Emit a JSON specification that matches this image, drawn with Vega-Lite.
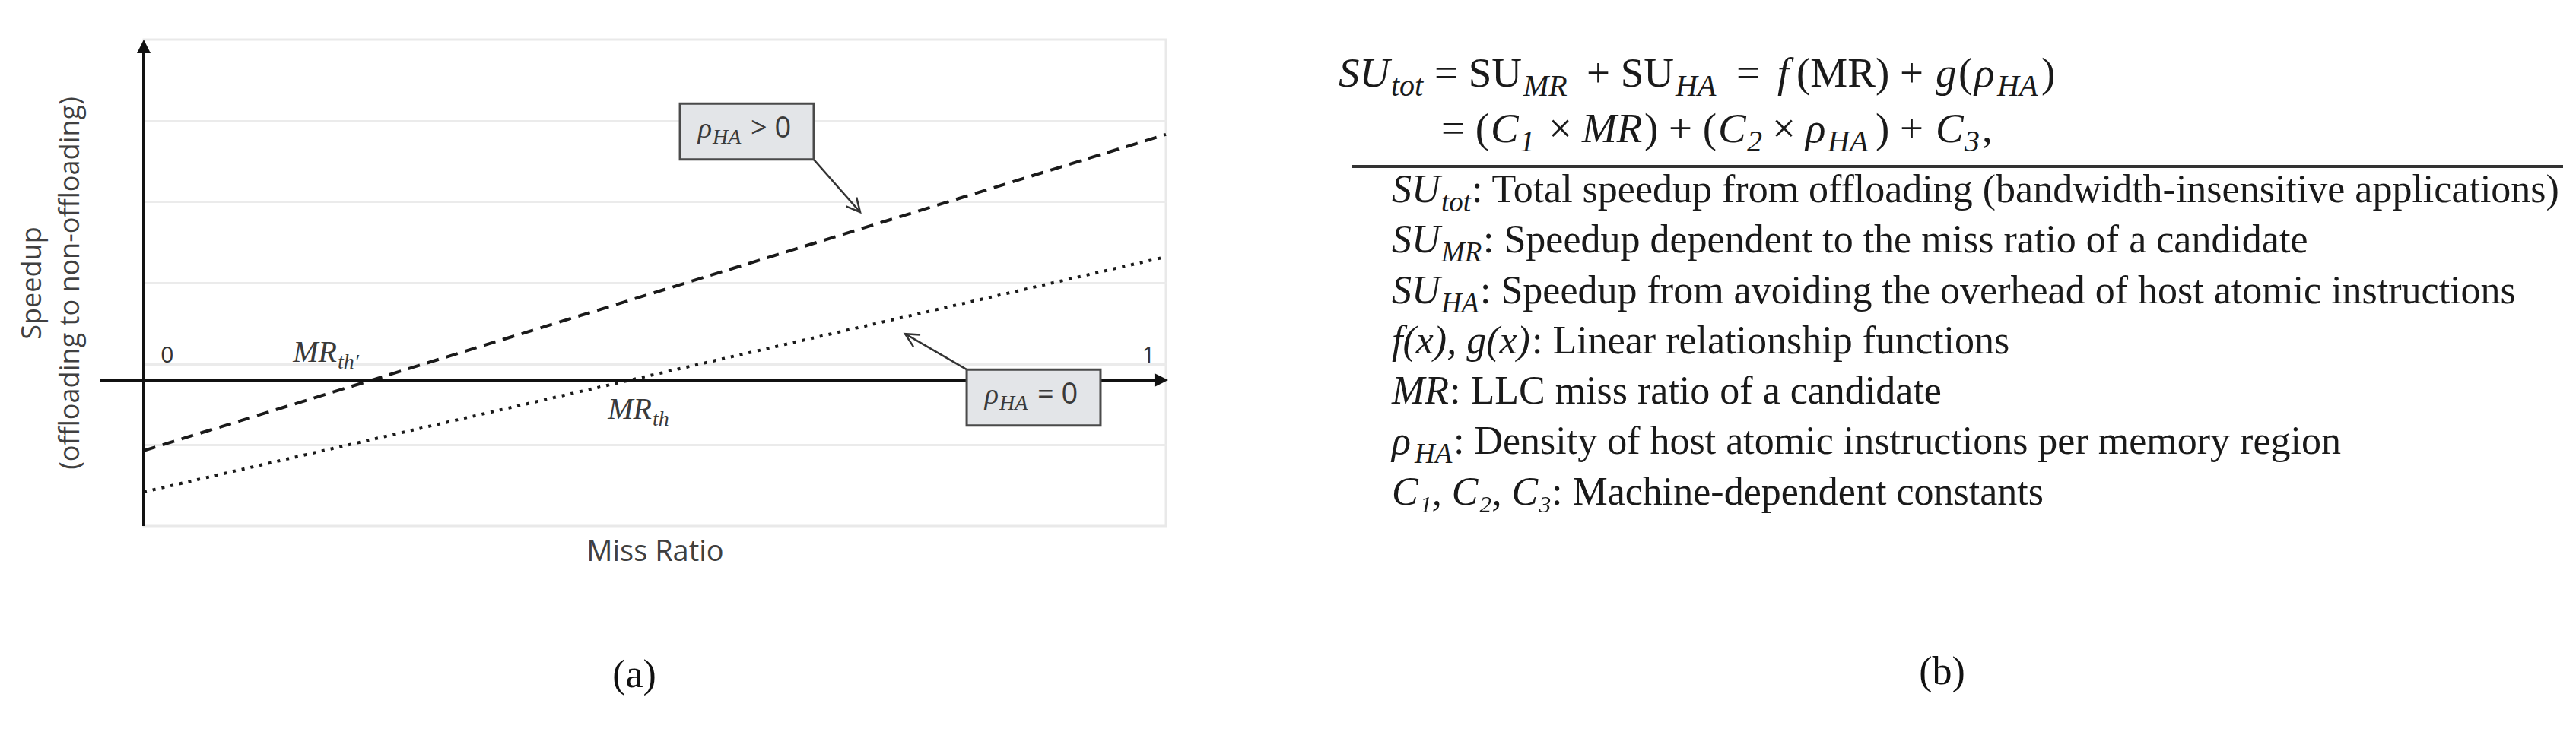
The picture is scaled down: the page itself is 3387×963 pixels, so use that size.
{
  "$schema": "https://vega.github.io/schema/vega-lite/v6.json",
  "background": "white",
  "padding": {"left": 22, "top": 50, "right": 0, "bottom": 0},
  "config": {"font": "Open Sans", "view": {"stroke": null}},
  "spacing": 157,
  "datasets": {
    "lines": [
      {"series": "ρHA > 0", "mr": 0, "speedup": -0.87},
      {"series": "ρHA > 0", "mr": 1, "speedup": 3.03},
      {"series": "ρHA = 0", "mr": 0, "speedup": -1.38},
      {"series": "ρHA = 0", "mr": 1, "speedup": 1.52}
    ],
    "callouts": [
      {"series": "ρHA > 0", "sym": "ρ", "sub": "HA", "rel": "> 0", "lo_mr": 0.5246, "hi_mr": 0.6555, "lo_su": 2.72, "hi_su": 3.41, "mid_mr": 0.590, "mid_su": 3.065, "from_mr": 0.6555, "from_su": 2.72, "tip_mr": 0.7009, "tip_su": 2.07},
      {"series": "ρHA = 0", "sym": "ρ", "sub": "HA", "rel": "= 0", "lo_mr": 0.8051, "hi_mr": 0.9360, "lo_su": -0.56, "hi_su": 0.13, "mid_mr": 0.8705, "mid_su": -0.215, "from_mr": 0.8051, "from_su": 0.13, "tip_mr": 0.7448, "tip_su": 0.57}
    ],
    "ends": [
      {"label": "0", "mr": 0.023, "speedup": 0.3},
      {"label": "1", "mr": 0.983, "speedup": 0.3}
    ],
    "thresholds": [
      {"main": "MR", "sub": "th′", "mr": 0.189, "speedup": 0.225},
      {"main": "MR", "sub": "th", "mr": 0.497, "speedup": -0.478}
    ],
    "eq": [
      {"block": "formula", "row": 0.69, "at": 1.20, "kind": "it", "txt": "SU"},
      {"block": "formula", "row": 0.69, "at": 2.58, "kind": "sub", "txt": "tot"},
      {"block": "formula", "row": 0.69, "at": 3.72, "kind": "rm", "txt": "= SU"},
      {"block": "formula", "row": 0.69, "at": 6.06, "kind": "sub", "txt": "MR"},
      {"block": "formula", "row": 0.69, "at": 7.72, "kind": "rm", "txt": "+ SU"},
      {"block": "formula", "row": 0.69, "at": 10.06, "kind": "sub", "txt": "HA"},
      {"block": "formula", "row": 0.69, "at": 11.66, "kind": "rm", "txt": "="},
      {"block": "formula", "row": 0.69, "at": 12.74, "kind": "it", "txt": "f"},
      {"block": "formula", "row": 0.69, "at": 13.24, "kind": "rm", "txt": "(MR) +"},
      {"block": "formula", "row": 0.69, "at": 16.90, "kind": "it", "txt": "g"},
      {"block": "formula", "row": 0.69, "at": 17.50, "kind": "rm", "txt": "("},
      {"block": "formula", "row": 0.69, "at": 17.92, "kind": "it", "txt": "ρ"},
      {"block": "formula", "row": 0.69, "at": 18.52, "kind": "sub", "txt": "HA"},
      {"block": "formula", "row": 0.69, "at": 19.68, "kind": "rm", "txt": ")"},
      {"block": "formula", "row": 1.79, "at": 3.90, "kind": "rm", "txt": "= ("},
      {"block": "formula", "row": 1.79, "at": 5.20, "kind": "it", "txt": "C"},
      {"block": "formula", "row": 1.79, "at": 5.96, "kind": "sub", "txt": "1"},
      {"block": "formula", "row": 1.79, "at": 6.72, "kind": "rm", "txt": "×"},
      {"block": "formula", "row": 1.79, "at": 7.60, "kind": "it", "txt": "MR"},
      {"block": "formula", "row": 1.79, "at": 9.24, "kind": "rm", "txt": ") + ("},
      {"block": "formula", "row": 1.79, "at": 11.18, "kind": "it", "txt": "C"},
      {"block": "formula", "row": 1.79, "at": 11.94, "kind": "sub", "txt": "2"},
      {"block": "formula", "row": 1.79, "at": 12.60, "kind": "rm", "txt": "×"},
      {"block": "formula", "row": 1.79, "at": 13.48, "kind": "it", "txt": "ρ"},
      {"block": "formula", "row": 1.79, "at": 14.06, "kind": "sub", "txt": "HA"},
      {"block": "formula", "row": 1.79, "at": 15.32, "kind": "rm", "txt": ") +"},
      {"block": "formula", "row": 1.79, "at": 16.90, "kind": "it", "txt": "C"},
      {"block": "formula", "row": 1.79, "at": 17.66, "kind": "sub", "txt": "3"},
      {"block": "formula", "row": 1.79, "at": 18.12, "kind": "rm", "txt": ","},
      {"block": "legend", "row": 3, "at": 2.60, "kind": "it", "txt": "SU"},
      {"block": "legend", "row": 3, "at": 3.90, "kind": "sub", "txt": "tot"},
      {"block": "legend", "row": 3, "at": 4.70, "kind": "rm", "txt": ": Total speedup from offloading (bandwidth-insensitive applications)"},
      {"block": "legend", "row": 4, "at": 2.60, "kind": "it", "txt": "SU"},
      {"block": "legend", "row": 4, "at": 3.90, "kind": "sub", "txt": "MR"},
      {"block": "legend", "row": 4, "at": 5.00, "kind": "rm", "txt": ": Speedup dependent to the miss ratio of a candidate"},
      {"block": "legend", "row": 5, "at": 2.60, "kind": "it", "txt": "SU"},
      {"block": "legend", "row": 5, "at": 3.90, "kind": "sub", "txt": "HA"},
      {"block": "legend", "row": 5, "at": 4.92, "kind": "rm", "txt": ": Speedup from avoiding the overhead of host atomic instructions"},
      {"block": "legend", "row": 6, "at": 2.60, "kind": "it", "txt": "f(x), g(x)"},
      {"block": "legend", "row": 6, "at": 6.28, "kind": "rm", "txt": ": Linear relationship functions"},
      {"block": "legend", "row": 7, "at": 2.60, "kind": "it", "txt": "MR"},
      {"block": "legend", "row": 7, "at": 4.12, "kind": "rm", "txt": ": LLC miss ratio of a candidate"},
      {"block": "legend", "row": 8, "at": 2.60, "kind": "it", "txt": "ρ"},
      {"block": "legend", "row": 8, "at": 3.20, "kind": "sub", "txt": "HA"},
      {"block": "legend", "row": 8, "at": 4.22, "kind": "rm", "txt": ": Density of host atomic instructions per memory region"},
      {"block": "legend", "row": 9, "at": 2.60, "kind": "it", "txt": "C₁, C₂, C₃"},
      {"block": "legend", "row": 9, "at": 6.80, "kind": "rm", "txt": ": Machine-dependent constants"}
    ]
  },
  "hconcat": [
    {
      "width": 1344,
      "height": 640,
      "view": {"stroke": "#e9e9e9", "strokeWidth": 3},
      "title": {"text": "(a)", "orient": "bottom", "frame": "group", "dx": -27, "offset": 118, "fontSize": 52, "font": "Liberation Serif", "fontWeight": "normal", "color": "#111"},
      "layer": [
        {
          "data": {"name": "lines"},
          "mark": {"type": "line", "color": "#1a1a1a", "strokeWidth": 4},
          "encoding": {
            "x": {"field": "mr", "type": "quantitative", "scale": {"domain": [0, 1], "nice": false, "zero": false},
              "axis": {"title": "Miss Ratio", "labels": false, "ticks": false, "domain": false, "grid": false, "titleFont": "Open Sans", "titleFontSize": 38, "titleFontWeight": "normal", "titleColor": "#404040", "titlePadding": 15}},
            "y": {"field": "speedup", "type": "quantitative", "scale": {"domain": [-1.8, 4.2], "nice": false, "zero": false},
              "axis": {"title": ["Speedup", "(offloading to non-offloading)"], "values": [-0.8, 0.2, 1.2, 2.2, 3.2], "labels": false, "ticks": false, "domain": false, "grid": true, "gridColor": "#ebebeb", "gridWidth": 3, "titleFont": "Open Sans", "titleFontSize": 36, "titleFontWeight": "normal", "titleColor": "#404040", "titlePadding": 78, "titleLineHeight": 50}},
            "strokeDash": {"field": "series", "type": "nominal", "scale": {"domain": ["ρHA > 0", "ρHA = 0"], "range": [[16, 10], [4, 8]]}, "legend": null}
          }
        },
        {
          "data": {"values": [{}]},
          "mark": {"type": "rule", "color": "#111", "strokeWidth": 4},
          "encoding": {"x": {"datum": -0.043}, "x2": {"datum": 0.995}, "y": {"datum": 0}}
        },
        {
          "data": {"values": [{}]},
          "mark": {"type": "rule", "color": "#111", "strokeWidth": 4},
          "encoding": {"x": {"datum": 0}, "y": {"datum": -1.8}, "y2": {"datum": 4.05}}
        },
        {
          "data": {"values": [{}]},
          "mark": {"type": "point", "shape": "M0,0L0.5,1L-0.5,1Z", "filled": true, "color": "#111", "opacity": 1, "size": 1296, "angle": 0},
          "encoding": {"x": {"datum": 0}, "y": {"datum": 4.2}}
        },
        {
          "data": {"values": [{}]},
          "mark": {"type": "point", "shape": "M0,0L0.5,1L-0.5,1Z", "filled": true, "color": "#111", "opacity": 1, "size": 1296, "angle": 90},
          "encoding": {"x": {"datum": 1.0022}, "y": {"datum": 0}}
        },
        {
          "data": {"name": "callouts"},
          "mark": {"type": "rule", "color": "#333", "strokeWidth": 2.5},
          "encoding": {"x": {"field": "from_mr", "type": "quantitative"}, "y": {"field": "from_su", "type": "quantitative"}, "x2": {"field": "tip_mr"}, "y2": {"field": "tip_su"}}
        },
        {
          "data": {"name": "callouts"},
          "transform": [{"filter": "datum.rel === '> 0'"}],
          "mark": {"type": "point", "shape": "M-0.5,1L0,0L0.5,1", "filled": false, "color": "#333", "strokeWidth": 2.5, "size": 1296, "opacity": 1, "angle": 139.4},
          "encoding": {"x": {"field": "tip_mr", "type": "quantitative"}, "y": {"field": "tip_su", "type": "quantitative"}}
        },
        {
          "data": {"name": "callouts"},
          "transform": [{"filter": "datum.rel === '= 0'"}],
          "mark": {"type": "point", "shape": "M-0.5,1L0,0L0.5,1", "filled": false, "color": "#333", "strokeWidth": 2.5, "size": 1296, "opacity": 1, "angle": 300.4},
          "encoding": {"x": {"field": "tip_mr", "type": "quantitative"}, "y": {"field": "tip_su", "type": "quantitative"}}
        },
        {
          "data": {"name": "callouts"},
          "mark": {"type": "rect", "fill": "#e3e5e8", "stroke": "#4a4a4a", "strokeWidth": 3},
          "encoding": {"x": {"field": "lo_mr", "type": "quantitative"}, "x2": {"field": "hi_mr"}, "y": {"field": "lo_su", "type": "quantitative"}, "y2": {"field": "hi_su"}}
        },
        {
          "data": {"name": "callouts"},
          "mark": {"type": "text", "align": "right", "baseline": "alphabetic", "dx": -46, "dy": 8, "font": "Liberation Serif", "fontStyle": "italic", "fontSize": 38, "color": "#3a3a3a"},
          "encoding": {"x": {"field": "mid_mr", "type": "quantitative"}, "y": {"field": "mid_su", "type": "quantitative"}, "text": {"field": "sym"}}
        },
        {
          "data": {"name": "callouts"},
          "mark": {"type": "text", "align": "left", "baseline": "alphabetic", "dx": -45, "dy": 16, "font": "Liberation Serif", "fontStyle": "italic", "fontSize": 28, "color": "#3a3a3a"},
          "encoding": {"x": {"field": "mid_mr", "type": "quantitative"}, "y": {"field": "mid_su", "type": "quantitative"}, "text": {"field": "sub"}}
        },
        {
          "data": {"name": "callouts"},
          "mark": {"type": "text", "align": "left", "baseline": "alphabetic", "dx": 5, "dy": 8, "font": "Open Sans", "fontSize": 38, "color": "#3a3a3a"},
          "encoding": {"x": {"field": "mid_mr", "type": "quantitative"}, "y": {"field": "mid_su", "type": "quantitative"}, "text": {"field": "rel"}}
        },
        {
          "data": {"name": "ends"},
          "mark": {"type": "text", "align": "center", "baseline": "middle", "font": "Open Sans", "fontSize": 30, "color": "#333"},
          "encoding": {"x": {"field": "mr", "type": "quantitative"}, "y": {"field": "speedup", "type": "quantitative"}, "text": {"field": "label"}}
        },
        {
          "data": {"name": "thresholds"},
          "mark": {"type": "text", "align": "right", "baseline": "alphabetic", "font": "Liberation Serif", "fontStyle": "italic", "fontSize": 40, "color": "#3a3a3a"},
          "encoding": {"x": {"field": "mr", "type": "quantitative"}, "y": {"field": "speedup", "type": "quantitative"}, "text": {"field": "main"}}
        },
        {
          "data": {"name": "thresholds"},
          "mark": {"type": "text", "align": "left", "baseline": "alphabetic", "dx": 1, "dy": 9, "font": "Liberation Serif", "fontStyle": "italic", "fontSize": 28, "color": "#3a3a3a"},
          "encoding": {"x": {"field": "mr", "type": "quantitative"}, "y": {"field": "speedup", "type": "quantitative"}, "text": {"field": "sub"}}
        }
      ]
    },
    {
      "width": 1687,
      "height": 663,
      "view": {"stroke": null},
      "title": {"text": "(b)", "orient": "bottom", "frame": "group", "dx": 10, "offset": 144, "fontSize": 52, "font": "Liberation Serif", "fontWeight": "normal", "color": "#111"},
      "layer": [
        {
          "data": {"name": "eq"},
          "transform": [{"filter": "datum.kind === 'rm' && datum.block === 'formula'"}],
          "mark": {"type": "text", "align": "left", "baseline": "alphabetic", "dy": 16, "font": "Liberation Serif", "fontSize": 55, "color": "#1a1a1a"},
          "encoding": {
            "x": {"field": "at", "type": "quantitative", "scale": {"domain": [0, 33.74], "nice": false, "zero": false}, "axis": null},
            "y": {"field": "row", "type": "quantitative", "scale": {"domain": [0, 10], "reverse": true, "nice": false, "zero": false}, "axis": null},
            "text": {"field": "txt"}
          }
        },
        {
          "data": {"name": "eq"},
          "transform": [{"filter": "datum.kind === 'it' && datum.block === 'formula'"}],
          "mark": {"type": "text", "align": "left", "baseline": "alphabetic", "dy": 16, "font": "Liberation Serif", "fontStyle": "italic", "fontSize": 55, "color": "#1a1a1a"},
          "encoding": {"x": {"field": "at", "type": "quantitative"}, "y": {"field": "row", "type": "quantitative"}, "text": {"field": "txt"}}
        },
        {
          "data": {"name": "eq"},
          "transform": [{"filter": "datum.kind === 'sub' && datum.block === 'formula'"}],
          "mark": {"type": "text", "align": "left", "baseline": "alphabetic", "dy": 28, "font": "Liberation Serif", "fontStyle": "italic", "fontSize": 40, "color": "#1a1a1a"},
          "encoding": {"x": {"field": "at", "type": "quantitative"}, "y": {"field": "row", "type": "quantitative"}, "text": {"field": "txt"}}
        },
        {
          "data": {"name": "eq"},
          "transform": [{"filter": "datum.kind === 'rm' && datum.block === 'legend'"}],
          "mark": {"type": "text", "align": "left", "baseline": "alphabetic", "dy": 15, "font": "Liberation Serif", "fontSize": 52, "color": "#1a1a1a"},
          "encoding": {"x": {"field": "at", "type": "quantitative"}, "y": {"field": "row", "type": "quantitative"}, "text": {"field": "txt"}}
        },
        {
          "data": {"name": "eq"},
          "transform": [{"filter": "datum.kind === 'it' && datum.block === 'legend'"}],
          "mark": {"type": "text", "align": "left", "baseline": "alphabetic", "dy": 15, "font": "Liberation Serif", "fontStyle": "italic", "fontSize": 52, "color": "#1a1a1a"},
          "encoding": {"x": {"field": "at", "type": "quantitative"}, "y": {"field": "row", "type": "quantitative"}, "text": {"field": "txt"}}
        },
        {
          "data": {"name": "eq"},
          "transform": [{"filter": "datum.kind === 'sub' && datum.block === 'legend'"}],
          "mark": {"type": "text", "align": "left", "baseline": "alphabetic", "dy": 27, "font": "Liberation Serif", "fontStyle": "italic", "fontSize": 37, "color": "#1a1a1a"},
          "encoding": {"x": {"field": "at", "type": "quantitative"}, "y": {"field": "row", "type": "quantitative"}, "text": {"field": "txt"}}
        },
        {
          "data": {"values": [{}]},
          "mark": {"type": "rule", "color": "#333", "strokeWidth": 4},
          "encoding": {"x": {"datum": 1.56}, "x2": {"datum": 33.4}, "y": {"datum": 2.52}}
        }
      ]
    }
  ]
}
